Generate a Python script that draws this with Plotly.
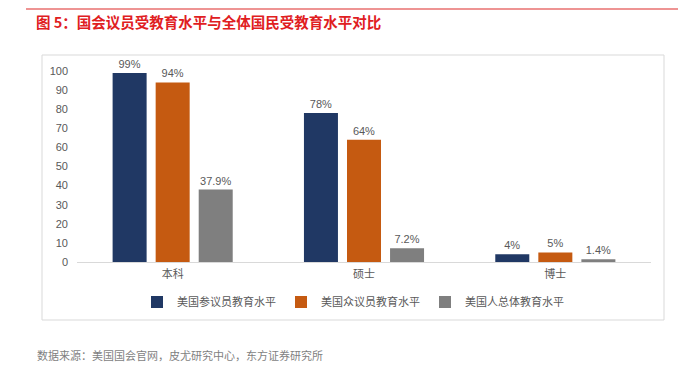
import plotly.graph_objects as go

categories = ["本科", "硕士", "博士"]
series_names = ["美国参议员教育水平", "美国众议员教育水平", "美国人总体教育水平"]
senate = [99, 78, 4]
house = [94, 64, 5]
population = [37.9, 7.2, 1.4]
label_formats = ["%{y:.0f}%", "%{y:.0f}%", "%{y:.1f}%"]
colors = ["#203864", "#C55A11", "#7F7F7F"]
y_ticks = [0, 10, 20, 30, 40, 50, 60, 70, 80, 90, 100]

OFF = 8  # browser body margin
W, H = 686 - OFF, 366 - OFF
L, R, T, B = 77 - OFF, 651 - OFF, 71 - OFF, 262 - OFF  # plot area in px


def px_x(x):
    return (x - OFF - L) / (R - L)


def px_y(y):
    return (B - (y - OFF)) / (B - T)


font_cjk = "Noto Sans CJK SC, Noto Sans, sans-serif"

fig = go.Figure()
for name, vals, fmt, col in zip(series_names, [senate, house, population], label_formats, colors):
    fig.add_trace(go.Bar(
        x=categories, y=vals, name=name,
        marker=dict(color=col, line=dict(width=0)),
        texttemplate=fmt, textposition="outside",
        textfont=dict(size=11, color="#595959", family="Liberation Sans, Arial, sans-serif"),
        cliponaxis=False,
    ))

fig.update_layout(
    width=W, height=H,
    margin=dict(l=L, r=W - R, t=T, b=H - B, pad=0),
    paper_bgcolor="white", plot_bgcolor="white",
    barmode="group", bargap=0.325, bargroupgap=0.21,
    font=dict(family=font_cjk, color="#595959", size=11),
    showlegend=True,
    legend=dict(orientation="h", x=px_x(353), xanchor="center", y=px_y(302), yanchor="middle",
                font=dict(size=11, color="#595959", family=font_cjk),
                itemwidth=30, traceorder="normal",
                bgcolor="rgba(0,0,0,0)"),
    xaxis=dict(showline=True, linecolor="#D9D9D9", linewidth=1, ticks="", showgrid=False,
               tickfont=dict(size=11, color="#595959", family=font_cjk), ticklabelstandoff=2,
               fixedrange=True),
    yaxis=dict(range=[0, 100], tickvals=y_ticks, showgrid=False, zeroline=False, showline=False,
               tickfont=dict(size=11, color="#595959", family="Liberation Sans, Arial, sans-serif"),
               ticklabelstandoff=8, fixedrange=True),
)

# frame and header decorations
fig.add_shape(type="rect", xref="paper", yref="paper",
              x0=px_x(42), x1=px_x(664), y0=px_y(320), y1=px_y(55),
              line=dict(color="#D9D9D9", width=1), fillcolor="rgba(0,0,0,0)", layer="below")
fig.add_shape(type="line", xref="paper", yref="paper",
              x0=px_x(26), x1=px_x(681), y0=px_y(9), y1=px_y(9),
              line=dict(color="#E8706F", width=1.5))

fig.add_annotation(text="<b>图 5：国会议员受教育水平与全体国民受教育水平对比</b>",
                   xref="paper", yref="paper", x=px_x(34), y=px_y(21),
                   xanchor="left", yanchor="middle", showarrow=False,
                   font=dict(size=14.5, color="#E0201F", family=font_cjk))
fig.add_annotation(text="数据来源：美国国会官网，皮尤研究中心，东方证券研究所",
                   xref="paper", yref="paper", x=px_x(35), y=px_y(355),
                   xanchor="left", yanchor="middle", showarrow=False,
                   font=dict(size=11, color="#7F7F7F", family=font_cjk))

fig.write_html("out.html")
